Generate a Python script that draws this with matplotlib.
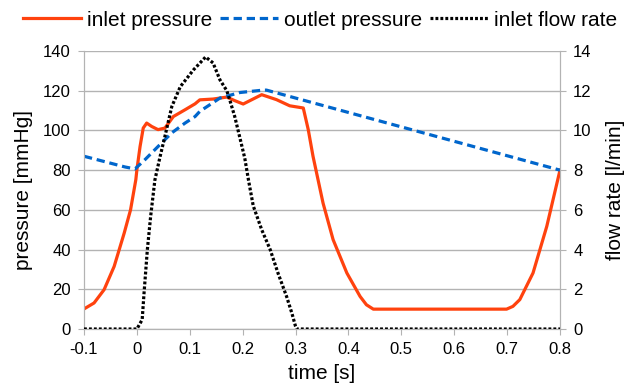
import matplotlib
matplotlib.use("Agg")
import matplotlib.pyplot as plt

plt.rcParams["font.family"] = ["Liberation Sans", "DejaVu Sans"]

# --- DATA ---
t_in = [-0.1, -0.081, -0.062, -0.043, -0.024, -0.012, -0.002, 0.0, 0.006, 0.012, 0.0185,
        0.028, 0.04, 0.053, 0.069, 0.091, 0.11, 0.119, 0.144, 0.17, 0.185, 0.201, 0.236,
        0.264, 0.289, 0.3146, 0.324, 0.333, 0.352, 0.371, 0.397, 0.422, 0.434, 0.447,
        0.699, 0.711, 0.724, 0.749, 0.775, 0.8]
p_in = [10.1, 13.1, 19.8, 31.5, 48.3, 60, 75.2, 80.2, 91.9, 101.2, 103.7,
        102, 100.4, 101.2, 107, 110.4, 113.4, 115.4, 115.8, 116.8, 115, 113.3, 118,
        115.5, 112.4, 111.3, 100.4, 87, 63.4, 45, 28.2, 16.4, 12.2, 10,
        10, 11.4, 14.8, 28.2, 51.7, 80]

t_out = [-0.1, -0.0225, -0.0036, 0.015, 0.04, 0.0656, 0.091, 0.11, 0.119, 0.157, 0.195,
         0.239, 0.245, 0.8]
p_out = [87, 81.6, 80.6, 85.2, 91.9, 98.7, 103.7, 107, 109.6, 116.3, 119.1,
         120.3, 120.3, 80]

t_flow = [-0.1, 0.0, 0.01, 0.0135, 0.0198, 0.026, 0.034, 0.044, 0.053, 0.066, 0.082,
          0.107, 0.13, 0.144, 0.157, 0.17, 0.176, 0.185, 0.195, 0.204, 0.211, 0.22,
          0.236, 0.252, 0.267, 0.283, 0.293, 0.3, 0.302, 0.8]
flow = [0, 0, 0.47, 1.8, 4.0, 5.67, 7.5, 8.7, 9.7, 11.2, 12.2,
        13.05, 13.7, 13.4, 12.55, 12.0, 11.5, 10.7, 9.6, 8.6, 7.5, 6.2,
        5.0, 4.0, 2.8, 1.64, 0.8, 0.13, 0, 0]

x_ticks = [-0.1, 0, 0.1, 0.2, 0.3, 0.4, 0.5, 0.6, 0.7, 0.8]
x_labels = ["-0.1", "0", "0.1", "0.2", "0.3", "0.4", "0.5", "0.6", "0.7", "0.8"]

# --- PLOTTING ---
fig = plt.figure(figsize=(6.37, 3.87), dpi=100)
ax = fig.add_axes([84 / 637, 1 - 329 / 387, (560 - 84) / 637, (329 - 51) / 387])
ax2 = ax.twinx()

l1, = ax.plot(t_in, p_in, color="#ff420e", linewidth=2.3, label="inlet pressure",
              zorder=3, solid_joinstyle="round")
l2, = ax.plot(t_out, p_out, color="#0066cc", linewidth=2.3, linestyle=(0, (2.6, 1.5)),
              label="outlet pressure", zorder=3)
l3, = ax2.plot(t_flow, flow, color="black", linewidth=2.3, linestyle=(0, (0.9, 0.65)),
               label="inlet flow rate", zorder=3)

ax.set_xlim(-0.1, 0.8)
ax.set_ylim(0, 140)
ax2.set_ylim(0, 14)
ax.set_yticks(range(0, 141, 20))
ax2.set_yticks(range(0, 15, 2))
ax.set_xticks(x_ticks)
ax.set_xticklabels(x_labels)

ax.grid(axis="y", color="#b3b3b3", linewidth=1)
ax.set_axisbelow(True)
for a in (ax, ax2):
    a.spines["top"].set_visible(False)
    for side in ("left", "right", "bottom"):
        a.spines[side].set_color("#b3b3b3")
    a.tick_params(colors="#b3b3b3", labelcolor="black", labelsize=12, length=4.5, pad=5)

ax.set_xlabel("time [s]", fontsize=15, labelpad=5)
ax.set_ylabel("pressure [mmHg]", fontsize=15, labelpad=7)
ax2.set_ylabel("flow rate [l/min]", fontsize=15, labelpad=10)

fig.legend(handles=[l1, l2, l3], loc="center", bbox_to_anchor=(320 / 637, 1 - 20 / 387),
           ncol=3, frameon=False, fontsize=15, handlelength=2.8, handletextpad=0.3,
           columnspacing=0.35, borderpad=0, borderaxespad=0)

fig.savefig("out.png", dpi=100)
